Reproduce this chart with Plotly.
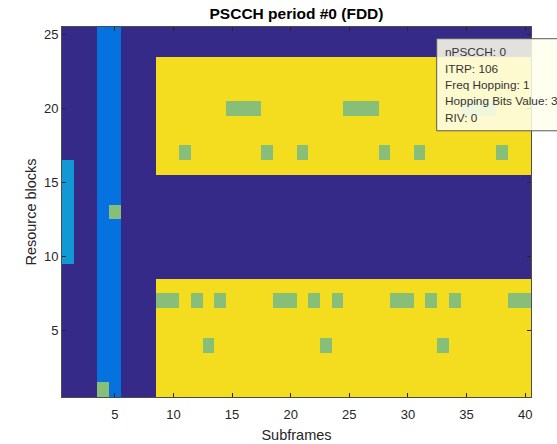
import plotly.graph_objects as go

# ---- data ----
subframes = list(range(1, 41))
resource_blocks = list(range(1, 26))
x_ticks = [5, 10, 15, 20, 25, 30, 35, 40]
y_ticks = [5, 10, 15, 20, 25]

# codes: 0 unused, 1 PSCCH subframes, 2 sync/other, 3 PSCCH resource used, 4 PSSCH pool
pscch_subframes = [4, 5]
other_subframes = [1]
other_rbs = [10, 11, 12, 13, 14, 15, 16]
pool_subframes = list(range(9, 41))
pool_rbs_low = [1, 2, 3, 4, 5, 6, 7, 8]
pool_rbs_high = [16, 17, 18, 19, 20, 21, 22, 23]
used_cells = (
    [(4, 1), (5, 13)]
    + [(s, 20) for s in [15, 16, 17, 25, 26, 27, 35, 36, 37]]
    + [(s, 17) for s in [11, 18, 21, 28, 31, 38]]
    + [(s, 7) for s in [9, 10, 12, 14, 19, 20, 22, 24, 29, 30, 32, 34, 39, 40]]
    + [(s, 4) for s in [13, 23, 33]]
)

tip_lines = ["nPSCCH: 0", "ITRP: 106", "Freq Hopping: 1", "Hopping Bits Value: 3", "RIV: 0"]

# ---- build grid ----
z = [[0 for _ in subframes] for _ in resource_blocks]
for s in pscch_subframes:
    for r in resource_blocks:
        z[r - 1][s - 1] = 1
for s in other_subframes:
    for r in other_rbs:
        z[r - 1][s - 1] = 2
for s in pool_subframes:
    for r in pool_rbs_low + pool_rbs_high:
        z[r - 1][s - 1] = 4
for s, r in used_cells:
    z[r - 1][s - 1] = 3

cols = ["#352a87", "#0672e0", "#1199d6", "#87bf79", "#f4dc1f"]
cs = []
n = len(cols)
for i, c in enumerate(cols):
    cs.append([i / n, c])
    cs.append([(i + 1) / n, c])

fig = go.Figure(go.Heatmap(
    x=subframes, y=resource_blocks, z=z, zmin=-0.5, zmax=4.5,
    colorscale=cs, showscale=False, hoverinfo="skip", xgap=0, ygap=0,
))

W, H = 557, 444
L, R, T, B = 61.5, 531.5, 27.3, 397.0
pw, ph = R - L, B - T

def px(xp):
    return (xp - L) / pw

def py(yp):
    return (B - yp) / ph

axis_common = dict(
    showline=True, linecolor="#4d4d4d", linewidth=1, mirror="ticks",
    ticks="inside", ticklen=4, tickcolor="#262626", showgrid=False, zeroline=False,
    tickfont=dict(family="Liberation Sans, Arial", size=13, color="#262626"),
)

fig.update_layout(
    width=W, height=H,
    margin=dict(l=L, r=W - R, t=T, b=H - B, autoexpand=False),
    paper_bgcolor="white", plot_bgcolor="white",
    title=dict(text="<b>PSCCH period #0 (FDD)</b>", x=0.5, xref="paper",
               y=1 - 13.5 / H, yref="container", yanchor="middle",
               font=dict(family="Liberation Sans, Arial", size=15.5, color="#000000")),
    xaxis=dict(range=[0.5, 40.5], tickvals=x_ticks, ticklabelstandoff=5,
               title=dict(text="Subframes", standoff=9,
                          font=dict(family="Liberation Sans, Arial", size=14.5, color="#262626")),
               **axis_common),
    yaxis=dict(range=[0.5, 25.5], tickvals=y_ticks,
               title=dict(text="Resource blocks", standoff=3,
                          font=dict(family="Liberation Sans, Arial", size=14.5, color="#262626")),
               **axis_common),
)

# datatip box
fig.add_shape(type="rect", xref="paper", yref="paper",
              x0=px(437), x1=px(640), y0=py(131), y1=py(39),
              fillcolor="rgba(255,255,236,0.86)", line=dict(color="#595959", width=1), layer="above")
for i, t in enumerate(tip_lines):
    fig.add_annotation(xref="paper", yref="paper", x=px(443.5), y=py(52.7 + 16.3 * i),
                       xanchor="left", yanchor="middle", text=t, showarrow=False,
                       font=dict(family="Liberation Sans, Arial", size=11.8, color="#333333"))

fig.write_html("out.html", config={"displayModeBar": False},
               post_script="document.body.style.margin='0';document.body.style.overflow='hidden';")
